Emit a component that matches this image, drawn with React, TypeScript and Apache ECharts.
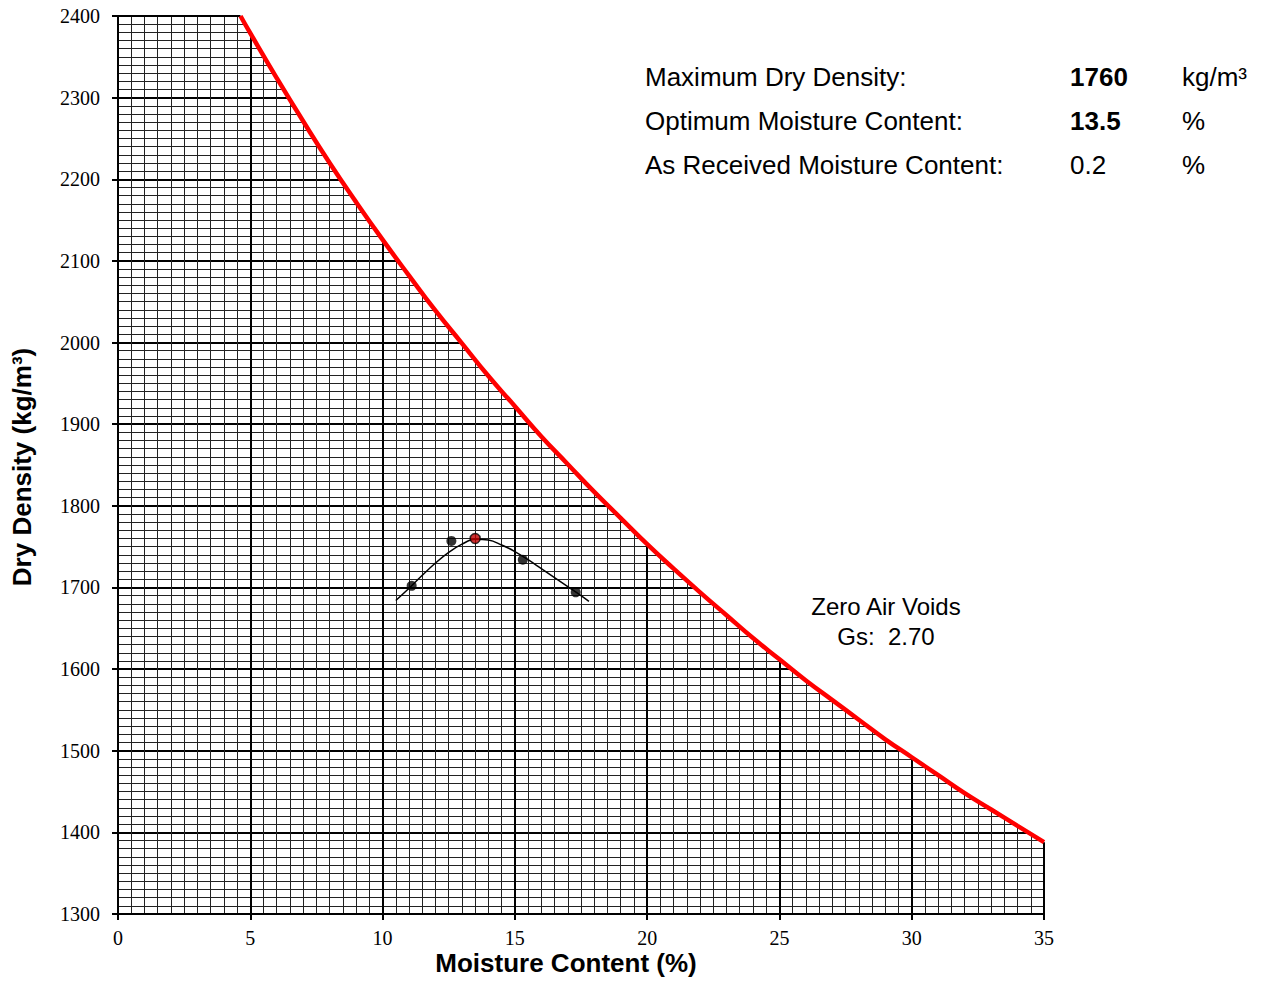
import React, { useEffect, useRef } from "react";
import * as echarts from "echarts";

// Zero air voids curve (Gs 2.70)
const zavMoisture = [4.63, 5, 6, 7, 8, 9, 10, 11, 12, 13, 14, 15, 16, 17, 18, 19, 20, 21, 22, 23, 24, 25, 26, 27, 28, 29, 30, 31, 32, 33, 34, 35];
const zavDensity = [2400, 2379, 2324, 2271, 2220, 2172, 2126, 2082, 2039, 1999, 1959, 1922, 1885, 1851, 1817, 1785, 1753, 1723, 1694, 1666, 1638, 1612, 1586, 1562, 1538, 1514, 1492, 1470, 1448, 1428, 1408, 1388];

// Compaction test points
const testMoisture = [11.1, 12.6, 15.3, 17.3];
const testDensity = [1702, 1757, 1734, 1694];

// Optimum point
const optMoisture = [13.5];
const optDensity = [1760];

// Fitted compaction curve
const fitMoisture = [10.5, 11, 11.5, 12, 12.5, 13, 13.5, 14, 14.5, 15, 15.5, 16, 16.5, 17, 17.5, 17.8];
const fitDensity = [1684, 1699, 1715, 1730, 1743, 1753, 1759, 1758, 1752, 1744, 1734, 1723, 1712, 1701, 1690, 1683];

// Summary texts
const summaryLabels = ["Maximum Dry Density:", "Optimum Moisture Content:", "As Received Moisture Content:"];
const summaryValues = ["1760", "13.5", "0.2"];
const summaryBold = [true, true, false];
const summaryUnits = ["kg/m³", "%", "%"];

const zip = (a: number[], b: number[]) => a.map((v, i) => [v, b[i]]);

export default function App() {
  const ref = useRef<HTMLDivElement>(null);
  useEffect(() => {
    if (!ref.current) return;
    const chart = echarts.init(ref.current, undefined, { renderer: "svg" });
    const sans = "Liberation Sans, Arial, sans-serif";
    const serif = "Liberation Serif, Times New Roman, serif";
    const rowsY = [77, 121, 165];
    const graphics: any[] = [];
    const txt = (x: number, y: number, text: string, font: string, align = "left", extra: any = {}) => ({
      type: "text", x, y, z: 100, zlevel: 0, ...extra,
      style: { text, font, fill: "#000", textAlign: align, textVerticalAlign: "middle" },
    });
    summaryLabels.forEach((t, i) => {
      graphics.push(txt(645, rowsY[i], t, `26px ${sans}`));
      graphics.push(txt(1070, rowsY[i], summaryValues[i], `${summaryBold[i] ? "bold " : ""}26px ${sans}`));
      graphics.push(txt(1182, rowsY[i], summaryUnits[i], `26px ${sans}`));
    });
    graphics.push(txt(886, 606, "Zero Air Voids", `24px ${sans}`, "center"));
    graphics.push(txt(886, 636, "Gs:  2.70", `24px ${sans}`, "center"));
    graphics.push(txt(566, 963, "Moisture Content (%)", `bold 26px ${sans}`, "center"));
    graphics.push(txt(22, 467, "Dry Density (kg/m³)", `bold 26px ${sans}`, "center", { rotation: Math.PI / 2 }));

    chart.setOption({
      animation: false,
      backgroundColor: "#fff",
      grid: { left: 118, right: 218, top: 16, bottom: 72, containLabel: false },
      xAxis: {
        type: "value", min: 0, max: 35, interval: 5,
        axisLine: { show: true, onZero: false, lineStyle: { color: "#000", width: 2 } },
        axisTick: { show: true, inside: false, length: 6, lineStyle: { color: "#000", width: 2 } },
        axisLabel: { fontFamily: serif, fontSize: 20, color: "#000", margin: 14, formatter: (v: number) => String(v) },
        splitLine: { show: true, showMaxLine: false, lineStyle: { color: "#000", width: 2 } },
        minorTick: { show: false, splitNumber: 10 },
        minorSplitLine: { show: true, lineStyle: { color: "#222", width: 1 } },
      },
      yAxis: {
        type: "value", min: 1300, max: 2400, interval: 100,
        axisLine: { show: true, onZero: false, lineStyle: { color: "#000", width: 2 } },
        axisTick: { show: true, inside: false, length: 6, lineStyle: { color: "#000", width: 2 } },
        axisLabel: { fontFamily: serif, fontSize: 20, color: "#000", margin: 18, formatter: (v: number) => String(v) },
        splitLine: { show: true, showMaxLine: false, lineStyle: { color: "#000", width: 2 } },
        minorTick: { show: false, splitNumber: 10 },
        minorSplitLine: { show: true, lineStyle: { color: "#222", width: 1 } },
      },
      graphic: { elements: graphics },
      series: [
        {
          name: "mask", type: "line", data: zip(zavMoisture, zavDensity), smooth: true,
          symbol: "none", lineStyle: { width: 0 }, silent: true,
          areaStyle: { color: "#fff", opacity: 1, origin: "end" }, z: 2,
        },
        {
          name: "top border", type: "line", data: [[0, 2400], [zavMoisture[0], 2400]], clip: false,
          symbol: "none", lineStyle: { color: "#000", width: 2 }, z: 3,
        },
        {
          name: "right border", type: "line", data: [[35, 1300], [35, zavDensity[zavDensity.length - 1]]], clip: false,
          symbol: "none", lineStyle: { color: "#000", width: 2 }, z: 3,
        },
        {
          name: "Zero Air Voids", type: "line", data: zip(zavMoisture, zavDensity), smooth: true,
          symbol: "none", lineStyle: { color: "#ff0000", width: 4.5 }, clip: false, z: 4,
        },
        {
          name: "fit", type: "line", data: zip(fitMoisture, fitDensity), smooth: 0.4,
          symbol: "none", lineStyle: { color: "#000", width: 1.5 }, z: 5,
        },
        {
          name: "tests", type: "scatter", data: zip(testMoisture, testDensity), symbol: "circle", symbolSize: 10,
          itemStyle: { color: "#000" }, z: 6,
        },
        {
          name: "optimum", type: "scatter", data: zip(optMoisture, optDensity), symbol: "circle", symbolSize: 10,
          itemStyle: { color: "#c00000", borderColor: "#000", borderWidth: 1.5 }, z: 7,
        },
      ],
    });
    return () => chart.dispose();
  }, []);
  return <div ref={ref} style={{ position: "fixed", left: 0, top: 0, width: 1262, height: 986 }} />;
}
